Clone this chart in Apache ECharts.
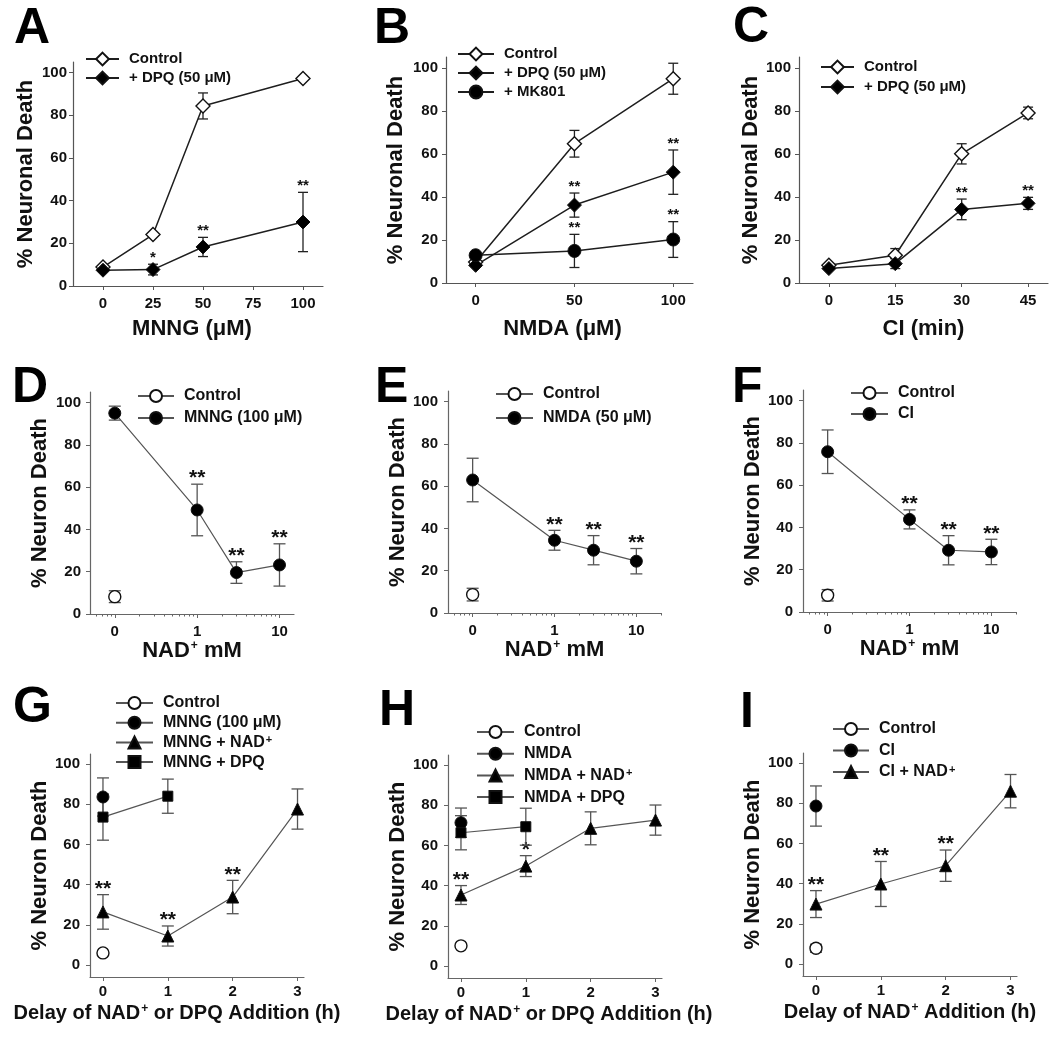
<!DOCTYPE html>
<html><head><meta charset="utf-8">
<script src="https://cdn.jsdelivr.net/npm/echarts@6/dist/echarts.min.js"></script>
<style>html,body{margin:0;padding:0;background:#fff}#c{width:1050px;height:1037px}</style>
</head><body><div id="c"></div>
<script>
// ================= DATA =================
const Y_TICKS = [0, 20, 40, 60, 80, 100];

// Panel A : MNNG (uM)
const A_x = [0, 25, 50, 100];
const A_xTicks = [0, 25, 50, 75, 100];
const A_control = [8.9, 24.1, 84.4, 97.3];
const A_controlErr = [0, 0, 6.1, 0];
const A_dpq = [7.4, 7.7, 18.3, 30];
const A_dpqErr = [0, 2.5, 4.5, 13.9];
const A_dpqSig = ['', '*', '**', '**'];

// Panel B : NMDA (uM)
const B_x = [0, 50, 100];
const B_xTicks = [0, 50, 100];
const B_control = [9.8, 64.7, 94.9];
const B_controlErr = [0, 6.2, 7.2];
const B_dpq = [8.2, 36.2, 51.5];
const B_dpqErr = [0, 5.6, 10.3];
const B_dpqSig = ['', '**', '**'];
const B_mk801 = [12.9, 14.9, 20.2];
const B_mk801Err = [0, 7.7, 8.3];
const B_mk801Sig = ['', '**', '**'];

// Panel C : CI (min)
const C_x = [0, 15, 30, 45];
const C_xTicks = [0, 15, 30, 45];
const C_control = [8.2, 12.9, 60, 79];
const C_controlErr = [0, 3.1, 4.7, 2.7];
const C_dpq = [6.7, 9, 34.2, 37];
const C_dpqErr = [0, 2.3, 4.8, 2.8];
const C_dpqSig = ['', '', '**', '**'];

// Panels D-F : NAD+ mM (the "0" dose sits at 0.1 on the log axis)
const NAD_x = [0.1, 1, 3, 10];
const NAD_ctrlX = [0.1];
const NAD_xTicks = [0.1, 1, 10];
const NAD_xTickLabels = ['0', '1', '10'];
const NAD_minorTicks = [0.06, 0.07, 0.08, 0.09, 0.2, 0.3, 0.4, 0.5, 0.6, 0.7, 0.8, 0.9, 2, 3, 4, 5, 6, 7, 8, 9, 20];

const D_control = [8.2];
const D_controlErr = [2.8];
const D_mnng = [95, 49.2, 19.6, 23.2];
const D_mnngErr = [3.3, 12.2, 5.1, 10];
const D_mnngSig = ['', '**', '**', '**'];

const E_control = [8.7];
const E_controlErr = [3];
const E_nmda = [62.9, 34.4, 29.7, 24.5];
const E_nmdaErr = [10.3, 4.7, 6.9, 6];
const E_nmdaSig = ['', '**', '**', '**'];

const F_control = [7.9];
const F_controlErr = [2.7];
const F_ci = [75.8, 43.8, 29.2, 28.4];
const F_ciErr = [10.3, 4.5, 6.9, 6];
const F_ciSig = ['', '**', '**', '**'];

// Panels G-I : delay of addition (h)
const DELAY_x = [0, 1, 2, 3];
const DELAY_xTicks = [0, 1, 2, 3];
const DELAY_zero = [0];
const DELAY_pair = [0, 1];

const G_control = [6];
const G_controlErr = [0];
const G_mnng = [83.6];
const G_mnngErr = [9.5];
const G_nad = [26.4, 14.4, 33.8, 77.6];
const G_nadErr = [8.6, 5, 8.3, 10];
const G_nadSig = ['**', '**', '**', ''];
const G_dpq = [73.6, 84];
const G_dpqErr = [11.5, 8.5];

const H_control = [10];
const H_controlErr = [0];
const H_nmda = [71.3];
const H_nmdaErr = [7.3];
const H_nad = [35.3, 49.7, 68.5, 72.6];
const H_nadErr = [4.7, 5.2, 8.2, 7.5];
const H_nadSig = ['**', '*', '', ''];
const H_dpq = [66.3, 69.3];
const H_dpqErr = [8.5, 9.2];

const I_control = [7.8];
const I_controlErr = [2];
const I_ci = [78.6];
const I_ciErr = [10];
const I_nad = [29.8, 39.8, 48.9, 86];
const I_nadErr = [6.7, 11.2, 7.8, 8.3];
const I_nadSig = ['**', '**', '**', ''];

// ================= STYLE / LAYOUT =================
const FONT = '"Liberation Sans", Arial, Helvetica, sans-serif';
const TOP = {line: '#1e1e1e', lw: 1.5, err: '#222', elw: 1.3, cap: 5, star: 15, starDy: 1, axis: '#555', legendFont: 15, itemH: 16, yName: 22};
const BOT = {line: '#555', lw: 1.2, err: '#555', elw: 1.3, cap: 6, star: 21, starDy: 5, axis: '#666', legendFont: 16, itemH: 15, yName: 22};

const WHITE = '#fff', BLACK = '#000';

const panels = [
  {id: 'A', st: TOP, letter: [14, 4], grid: {left: 73, top: 62, width: 250, height: 224},
   x: {type: 'value', min: -15, max: 110, ticks: A_xTicks}, y: {min: 0, max: 105},
   xName: 'MNNG (μM)', xGap: 32, xMargin: 10, yName: '% Neuronal Death', yGap: 36, yMargin: 6, xShift: 12,
   legend: {left: 85, top: 51, w: 33, spacing: 19},
   series: [
     {name: 'Control', x: A_x, y: A_control, err: A_controlErr, sym: 'diamond', size: 14, fill: WHITE},
     {name: '+ DPQ (50 μM)', x: A_x, y: A_dpq, err: A_dpqErr, sig: A_dpqSig, sym: 'diamond', size: 14, fill: BLACK}
   ]},
  {id: 'B', st: TOP, letter: [374, 4], grid: {left: 446, top: 57, width: 247, height: 226},
   x: {type: 'value', min: -15, max: 110, ticks: B_xTicks}, y: {min: 0, max: 105},
   xName: 'NMDA (μM)', xGap: 35, xMargin: 10, yName: '% Neuronal Death', yGap: 39, yMargin: 8, xShift: 14,
   legend: {left: 457, top: 46, w: 36, spacing: 19},
   series: [
     {name: 'Control', x: B_x, y: B_control, err: B_controlErr, sym: 'diamond', size: 14, fill: WHITE},
     {name: '+ DPQ (50 μM)', x: B_x, y: B_dpq, err: B_dpqErr, sig: B_dpqSig, sym: 'diamond', size: 14, fill: BLACK},
     {name: '+ MK801', x: B_x, y: B_mk801, err: B_mk801Err, sig: B_mk801Sig, sym: 'circle', size: 13, fill: BLACK}
   ]},
  {id: 'C', st: TOP, letter: [733, 3], grid: {left: 799, top: 57, width: 249, height: 226},
   x: {type: 'value', min: -6.75, max: 49.5, ticks: C_xTicks}, y: {min: 0, max: 105},
   xName: 'CI (min)', xGap: 35, xMargin: 10, yName: '% Neuronal Death', yGap: 37, yMargin: 8, xShift: 0,
   legend: {left: 820, top: 59, w: 33, spacing: 20},
   series: [
     {name: 'Control', x: C_x, y: C_control, err: C_controlErr, sym: 'diamond', size: 14, fill: WHITE},
     {name: '+ DPQ (50 μM)', x: C_x, y: C_dpq, err: C_dpqErr, sig: C_dpqSig, sym: 'diamond', size: 14, fill: BLACK}
   ]},
  {id: 'D', st: BOT, letter: [12, 363], grid: {left: 90, top: 392, width: 204, height: 222},
   x: {type: 'log', min: 0.05, max: 15, ticks: NAD_xTicks, labels: NAD_xTickLabels, minor: NAD_minorTicks}, y: {min: 0, max: 105},
   xName: 'NAD⁺ mM', xGap: 26, xMargin: 10, yName: '% Neuron Death', yGap: 39, yMargin: 9, xShift: 0,
   legend: {left: 137, top: 388, w: 36, spacing: 21},
   series: [
     {name: 'Control', x: NAD_ctrlX, y: D_control, err: D_controlErr, sym: 'circle', size: 12, fill: WHITE},
     {name: 'MNNG (100 μM)', x: NAD_x, y: D_mnng, err: D_mnngErr, sig: D_mnngSig, sym: 'circle', size: 12, fill: BLACK}
   ]},
  {id: 'E', st: BOT, letter: [375, 363], grid: {left: 448, top: 391, width: 213, height: 222},
   x: {type: 'log', min: 0.05, max: 20, ticks: NAD_xTicks, labels: NAD_xTickLabels, minor: NAD_minorTicks}, y: {min: 0, max: 105},
   xName: 'NAD⁺ mM', xGap: 26, xMargin: 10, yName: '% Neuron Death', yGap: 39, yMargin: 10, xShift: 0,
   legend: {left: 495, top: 386, w: 37, spacing: 23},
   series: [
     {name: 'Control', x: NAD_ctrlX, y: E_control, err: E_controlErr, sym: 'circle', size: 12, fill: WHITE},
     {name: 'NMDA (50 μM)', x: NAD_x, y: E_nmda, err: E_nmdaErr, sig: E_nmdaSig, sym: 'circle', size: 12, fill: BLACK}
   ]},
  {id: 'F', st: BOT, letter: [732, 363], grid: {left: 803, top: 390, width: 213, height: 222},
   x: {type: 'log', min: 0.05, max: 20, ticks: NAD_xTicks, labels: NAD_xTickLabels, minor: NAD_minorTicks}, y: {min: 0, max: 105},
   xName: 'NAD⁺ mM', xGap: 26, xMargin: 10, yName: '% Neuron Death', yGap: 39, yMargin: 10, xShift: 0,
   legend: {left: 850, top: 385, w: 37, spacing: 20},
   series: [
     {name: 'Control', x: NAD_ctrlX, y: F_control, err: F_controlErr, sym: 'circle', size: 12, fill: WHITE},
     {name: 'CI', x: NAD_x, y: F_ci, err: F_ciErr, sig: F_ciSig, sym: 'circle', size: 12, fill: BLACK}
   ]},
  {id: 'G', st: BOT, letter: [13, 683], grid: {left: 90, top: 754, width: 214, height: 223},
   x: {type: 'value', min: -0.2, max: 3.1, ticks: DELAY_xTicks}, y: {min: -6, max: 105},
   xName: 'Delay of NAD⁺ or DPQ Addition (h)', xGap: 26, xMargin: 7, yName: '% Neuron Death', yGap: 38, yMargin: 10, xShift: 40,
   legend: {left: 115, top: 695, w: 37, spacing: 18.7},
   series: [
     {name: 'Control', x: DELAY_zero, y: G_control, err: G_controlErr, sym: 'circle', size: 12, fill: WHITE},
     {name: 'MNNG (100 μM)', x: DELAY_zero, y: G_mnng, err: G_mnngErr, sym: 'circle', size: 12, fill: BLACK},
     {name: 'MNNG + NAD⁺', x: DELAY_x, y: G_nad, err: G_nadErr, sig: G_nadSig, sym: 'triangle', size: 12, fill: BLACK},
     {name: 'MNNG + DPQ', x: DELAY_pair, y: G_dpq, err: G_dpqErr, sym: 'rect', size: 10, fill: BLACK}
   ]},
  {id: 'H', st: BOT, letter: [379, 686], grid: {left: 448, top: 755, width: 214, height: 223},
   x: {type: 'value', min: -0.2, max: 3.1, ticks: DELAY_xTicks}, y: {min: -6, max: 105},
   xName: 'Delay of NAD⁺ or DPQ Addition (h)', xGap: 26, xMargin: 7, yName: '% Neuron Death', yGap: 39, yMargin: 10, xShift: 12,
   legend: {left: 476, top: 724, w: 37, spacing: 20.7},
   series: [
     {name: 'Control', x: DELAY_zero, y: H_control, err: H_controlErr, sym: 'circle', size: 12, fill: WHITE},
     {name: 'NMDA', x: DELAY_zero, y: H_nmda, err: H_nmdaErr, sym: 'circle', size: 12, fill: BLACK},
     {name: 'NMDA + NAD⁺', x: DELAY_x, y: H_nad, err: H_nadErr, sig: H_nadSig, sym: 'triangle', size: 12, fill: BLACK},
     {name: 'NMDA + DPQ', x: DELAY_pair, y: H_dpq, err: H_dpqErr, sym: 'rect', size: 10, fill: BLACK}
   ]},
  {id: 'I', st: BOT, letter: [740, 688], grid: {left: 803, top: 753, width: 214, height: 223},
   x: {type: 'value', min: -0.2, max: 3.1, ticks: DELAY_xTicks}, y: {min: -6, max: 105},
   xName: 'Delay of NAD⁺ Addition (h)', xGap: 26, xMargin: 7, yName: '% Neuron Death', yGap: 38, yMargin: 10, xShift: 0,
   legend: {left: 832, top: 721, w: 36, spacing: 20.5},
   series: [
     {name: 'Control', x: DELAY_zero, y: I_control, err: I_controlErr, sym: 'circle', size: 12, fill: WHITE},
     {name: 'CI', x: DELAY_zero, y: I_ci, err: I_ciErr, sym: 'circle', size: 12, fill: BLACK},
     {name: 'CI + NAD⁺', x: DELAY_x, y: I_nad, err: I_nadErr, sig: I_nadSig, sym: 'triangle', size: 12, fill: BLACK}
   ]}
];

// ================= BUILD =================
function supRich(str) { return str.replace(/⁺/g, '{s|+}'); }
function richSup(size) {
  return {s: {fontSize: size, fontWeight: 'bold', fontFamily: FONT, color: '#111', verticalAlign: 'top', padding: [0, 0, 0, 1]}};
}

function errorSeries(p, s, xi, yi) {
  const st = p.st;
  const rows = [];
  s.x.forEach((xv, i) => {
    const e = s.err ? s.err[i] : 0;
    const sg = s.sig ? s.sig[i] : '';
    if (e > 0 || sg) rows.push({v: [xv, s.y[i] - e, s.y[i] + e], sig: sg, e: e});
  });
  return {
    type: 'custom', xAxisIndex: xi, yAxisIndex: yi, silent: true, z: 2,
    data: rows.map(r => r.v),
    renderItem(params, api) {
      const r = rows[params.dataIndex];
      const xv = api.value(0);
      const lo = api.coord([xv, api.value(1)]);
      const hi = api.coord([xv, api.value(2)]);
      const ls = {stroke: st.err, lineWidth: st.elw};
      const ch = [];
      if (r.e > 0) {
        ch.push({type: 'line', shape: {x1: lo[0], y1: lo[1], x2: hi[0], y2: hi[1]}, style: ls});
        ch.push({type: 'line', shape: {x1: lo[0] - st.cap, y1: lo[1], x2: lo[0] + st.cap, y2: lo[1]}, style: ls});
        ch.push({type: 'line', shape: {x1: hi[0] - st.cap, y1: hi[1], x2: hi[0] + st.cap, y2: hi[1]}, style: ls});
      }
      if (r.sig) {
        const top = r.e > 0 ? hi[1] : hi[1] - 8;
        ch.push({type: 'text', style: {text: r.sig, x: hi[0], y: top + st.starDy, align: 'center', verticalAlign: 'bottom',
          font: 'bold ' + st.star + 'px ' + FONT, fill: '#111'}});
      }
      return {type: 'group', children: ch};
    }
  };
}

const option = {animation: false, textStyle: {fontFamily: FONT}, grid: [], xAxis: [], yAxis: [], series: [], legend: [], graphic: []};

panels.forEach((p, gi) => {
  const st = p.st;
  option.grid.push(Object.assign({containLabel: false}, p.grid));
  const xi = option.xAxis.length;
  const labelFmt = p.x.labels
    ? (v => { const k = p.x.ticks.findIndex(t => Math.abs(Math.log10(t) - Math.log10(v)) < 1e-6); return k >= 0 ? p.x.labels[k] : ''; })
    : (v => String(v));
  option.xAxis.push({
    gridIndex: gi, type: p.x.type, min: p.x.min, max: p.x.max, position: 'bottom',
    name: supRich(p.xName), nameLocation: 'middle', nameGap: p.xGap,
    nameTextStyle: {fontSize: p.id >= 'G' ? 20 : 22, fontWeight: 'bold', color: '#111', fontFamily: FONT,
      padding: [0, p.xShift, 0, 0], rich: richSup(12)},
    axisLine: {onZero: false, lineStyle: {color: st.axis, width: 1.2}},
    axisTick: {customValues: p.x.ticks, length: 4, lineStyle: {color: st.axis}},
    axisLabel: {customValues: p.x.ticks, formatter: labelFmt, margin: p.xMargin, fontSize: 15, fontWeight: 'bold', color: '#111', fontFamily: FONT},
    splitLine: {show: false}, minorTick: {show: false}
  });
  if (p.x.minor) {
    option.xAxis.push({
      gridIndex: gi, type: 'log', min: p.x.min, max: p.x.max, position: 'bottom',
      axisLine: {show: false, onZero: false},
      axisTick: {customValues: p.x.minor.filter(v => v > p.x.min && v <= p.x.max), length: 2.5, lineStyle: {color: st.axis}},
      axisLabel: {show: false}, splitLine: {show: false}
    });
  }
  const yi = option.yAxis.length;
  option.yAxis.push({
    gridIndex: gi, type: 'value', min: p.y.min, max: p.y.max,
    name: p.yName, nameLocation: 'middle', nameGap: p.yGap, nameRotate: 90,
    nameTextStyle: {fontSize: st.yName, fontWeight: 'bold', color: '#111', fontFamily: FONT},
    axisLine: {show: true, onZero: false, lineStyle: {color: st.axis, width: 1.2}},
    axisTick: {show: true, customValues: Y_TICKS, length: 4, lineStyle: {color: st.axis}},
    axisLabel: {customValues: Y_TICKS, margin: p.yMargin, fontSize: 15, fontWeight: 'bold', color: '#111', fontFamily: FONT},
    splitLine: {show: false}
  });
  p.series.forEach(s => option.series.push(errorSeries(p, s, xi, yi)));
  const names = [];
  p.series.forEach(s => {
    const nm = p.id + '|' + s.name;
    names.push(nm);
    option.series.push({
      type: 'line', name: nm, xAxisIndex: xi, yAxisIndex: yi, z: 3,
      data: s.x.map((xv, i) => [xv, s.y[i]]),
      symbol: s.sym, symbolSize: s.size, showSymbol: true,
      lineStyle: {color: st.line, width: st.lw},
      itemStyle: {color: s.fill, borderColor: '#111', borderWidth: s.fill === WHITE ? 1.4 : 1},
      emphasis: {disabled: true}, silent: true
    });
  });
  const L = p.legend;
  option.legend.push({
    orient: 'vertical', left: L.left, top: L.top, padding: 0, selectedMode: false,
    itemWidth: L.w, itemHeight: st.itemH, itemGap: L.spacing - st.itemH,
    data: names,
    formatter: n => supRich(n.split('|')[1]),
    textStyle: {fontSize: st.legendFont, fontWeight: 'bold', color: '#111', fontFamily: FONT, lineHeight: st.itemH,
      padding: [0, 0, 0, 5], rich: richSup(11)}
  });
  option.graphic.push({type: 'text', left: p.letter[0], top: p.letter[1],
    style: {text: p.id, font: 'bold 50px ' + FONT, fill: '#000'}});
});

const chart = echarts.init(document.getElementById('c'), null, {renderer: 'canvas'});
chart.setOption(option);
</script>
</body></html>
